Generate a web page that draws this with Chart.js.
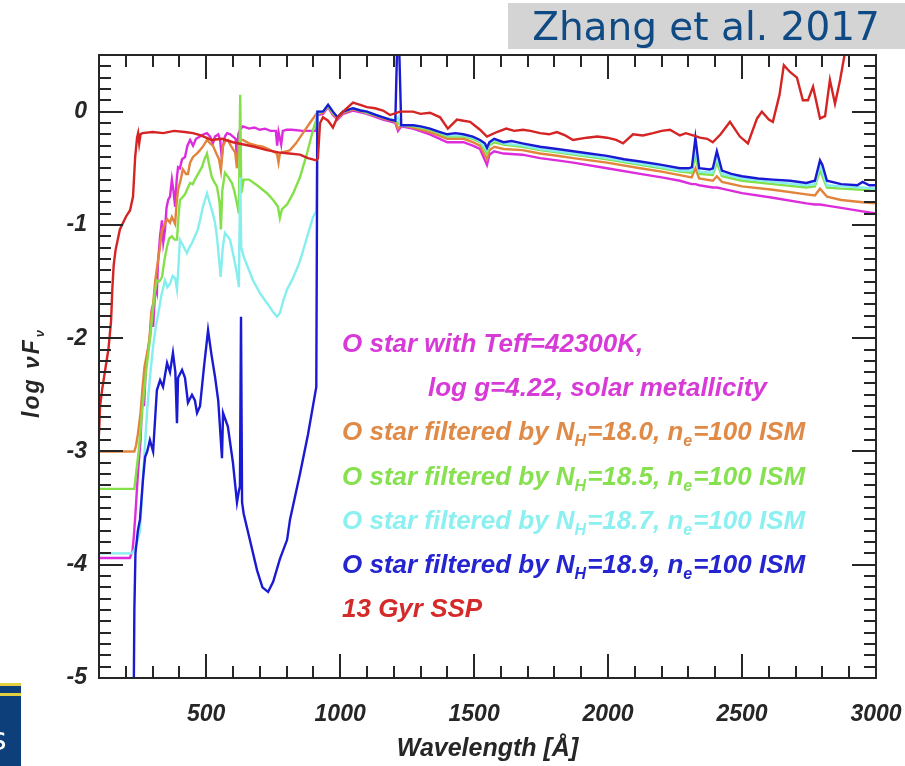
<!DOCTYPE html>
<html><head><meta charset="utf-8">
<script src="https://cdn.jsdelivr.net/npm/chart.js@4.4.0/dist/chart.umd.min.js"></script>
<style>html,body{margin:0;padding:0;background:#fff;}#wrap{position:relative;width:905px;height:766px;}</style>
</head><body><div id="wrap"><canvas id="c" width="905" height="766"></canvas></div>
<script>
// ---------------- data (wavelength in Angstrom, log nuF_nu) ----------------
const ssp13X = [100,104,112,125,135,145,150,155,162,178,200,216,227,235,242,246,250,255,262,300,340,380,420,451,480,520,560,600,640,680,727,770,810,850,880,912,
  917,925,936,955,973,990,1011,1048,1075,1100,1130,1160,1186,1223,1272,1300,1335,1373,1402,1436,1460,1485,1522,1548,1585,1620,1650,1682,1710,1746,1780,1809,1840,1869,1921,1960,1996,2030,2056,2093,2130,2168,2200,2231,2268,2290,2317,2343,2370,2391,2420,2455,2492,2522,2556,2574,2600,2615,2640,2656,2679,2705,2727,2746,2765,2791,2810,2828,2847,2866,2884,2900];
const ssp13Y = [-2.85,-2.6,-2.45,-2.25,-2.1,-1.85,-1.55,-1.35,-1.22,-1.04,-0.93,-0.87,-0.75,-0.4,-0.23,-0.19,-0.28,-0.2,-0.19,-0.18,-0.19,-0.17,-0.18,-0.19,-0.21,-0.25,-0.24,-0.27,-0.29,-0.31,-0.34,-0.36,-0.37,-0.38,-0.41,-0.43,
  -0.41,-0.1,-0.05,-0.08,-0.14,-0.05,0.0,0.08,0.06,0.04,0.03,0.01,-0.03,0.0,0.0,-0.02,-0.01,-0.05,-0.15,-0.07,-0.08,-0.09,-0.16,-0.22,-0.18,-0.15,-0.17,-0.16,-0.17,-0.19,-0.2,-0.18,-0.21,-0.25,-0.23,-0.22,-0.23,-0.25,-0.28,-0.2,-0.21,-0.19,-0.17,-0.16,-0.21,-0.19,-0.21,-0.23,-0.24,-0.27,-0.2,-0.09,-0.22,-0.28,-0.06,0.0,-0.07,-0.09,0.15,0.41,0.35,0.3,0.1,0.1,0.22,-0.06,-0.04,0.28,0.07,0.28,0.52,0.7];

const nh189X = [100,227,232,236,245,253,264,272,280,290,302,316,328,339,354,365,376,385,391,395,410,421,432,447,458,466,477,492,507,520,533,545,559,563,572,581,600,615,622,626,630,634,640,663,690,710,731,750,775,802,813,850,880,911,
  915,936,955,973,990,1011,1048,1075,1100,1135,1160,1186,1206,1213,1220,1228,1272,1300,1335,1373,1400,1430,1460,1495,1522,1540,1548,1557,1575,1610,1640,1680,1746,1810,1870,1930,1996,2060,2120,2200,2268,2300,2313,2326,2340,2380,2391,2406,2425,2460,2500,2560,2615,2680,2740,2772,2791,2800,2817,2870,2930,2950,2975,3000];
const nh189Y = [-6,-6,-4.4,-3.9,-3.7,-3.6,-3.25,-3.05,-3.0,-2.9,-3.0,-2.46,-2.37,-2.43,-2.22,-2.3,-2.13,-2.3,-2.75,-2.35,-2.28,-2.35,-2.57,-2.5,-2.55,-2.66,-2.6,-2.25,-1.93,-2.15,-2.34,-2.55,-3.06,-2.66,-2.72,-2.78,-3.1,-3.45,-3.35,-3.31,-1.81,-3.45,-3.55,-3.78,-4.05,-4.2,-4.24,-4.15,-3.95,-3.78,-3.6,-3.2,-2.85,-2.43,
  0.0,0.0,0.06,0.0,-0.05,0.0,0.03,0.01,0.0,-0.03,-0.05,-0.07,-0.08,0.6,0.6,-0.12,-0.12,-0.13,-0.15,-0.18,-0.2,-0.19,-0.2,-0.22,-0.25,-0.28,-0.32,-0.27,-0.24,-0.27,-0.26,-0.28,-0.31,-0.33,-0.35,-0.37,-0.39,-0.42,-0.44,-0.47,-0.5,-0.5,-0.49,-0.23,-0.5,-0.51,-0.5,-0.35,-0.52,-0.55,-0.57,-0.59,-0.6,-0.61,-0.63,-0.61,-0.43,-0.47,-0.61,-0.64,-0.65,-0.62,-0.65,-0.65];

const postBreakX = [915,936,955,973,990,1011,1048,1100,1160,1206,1216,1228,1272,1335,1400,1460,1495,1522,1548,1557,1575,1610,1680,1746,1810,1870,1996,2120,2200,2268,2312,2326,2340,2391,2406,2425,2500,2615,2740,2772,2791,2817,2870,2950,3000];

const nh187X = [100,222,232,240,253,265,279,290,302,312,320,333,346,355,365,375,384,391,397,402,413,428,437,447,458,469,478,488,503,515,525,533,540,548,554,562,570,580,589,600,615,622,627,631,640,660,675,700,730,750,764,775,790,802,824,850,875,899,911].concat(postBreakX);
const nh187Y = [-3.9,-3.9,-3.87,-3.82,-3.7,-3.2,-2.66,-2.35,-2.07,-1.9,-1.8,-1.62,-1.49,-1.55,-1.52,-1.45,-1.47,-1.57,-1.35,-1.13,-1.18,-1.25,-1.2,-1.16,-1.1,-1.04,-0.95,-0.84,-0.72,-0.82,-0.9,-0.98,-1.1,-1.3,-1.46,-1.2,-1.07,-1.1,-1.13,-1.25,-1.43,-1.55,-0.58,-1.2,-1.28,-1.4,-1.49,-1.6,-1.7,-1.77,-1.81,-1.78,-1.65,-1.57,-1.47,-1.32,-1.12,-0.93,-0.88,
  0.0,0.0,0.06,0.0,-0.05,0.0,0.03,0.0,-0.05,-0.08,-0.05,-0.12,-0.12,-0.15,-0.21,-0.21,-0.23,-0.26,-0.34,-0.28,-0.25,-0.28,-0.3,-0.33,-0.35,-0.37,-0.41,-0.46,-0.49,-0.52,-0.52,-0.3,-0.53,-0.54,-0.4,-0.55,-0.59,-0.62,-0.65,-0.64,-0.47,-0.65,-0.66,-0.67,-0.68];

const nh185X = [100,232,238,248,255,265,275,288,300,308,316,325,335,345,354,362,372,382,391,396,402,410,421,430,440,450,458,470,484,494,503,512,521,530,540,550,555,560,570,583,596,605,615,622,627,631,640,660,690,727,750,768,775,783,802,825,850,875,899,911].concat(postBreakX);
const nh185Y = [-3.33,-3.33,-3.2,-3.0,-2.81,-2.55,-2.31,-2.05,-1.78,-1.6,-1.49,-1.5,-1.46,-1.3,-1.19,-1.12,-1.1,-1.13,-1.13,-0.95,-0.78,-0.76,-0.73,-0.68,-0.63,-0.64,-0.6,-0.55,-0.49,-0.42,-0.37,-0.48,-0.58,-0.62,-0.66,-0.8,-1.04,-0.7,-0.54,-0.58,-0.63,-0.7,-0.81,-0.9,0.15,-0.72,-0.6,-0.6,-0.65,-0.72,-0.78,-0.84,-0.94,-0.86,-0.82,-0.72,-0.58,-0.38,-0.16,-0.07,
  -0.01,0.0,0.05,-0.01,-0.05,0.0,0.03,-0.01,-0.05,-0.08,-0.1,-0.12,-0.13,-0.16,-0.22,-0.22,-0.24,-0.27,-0.37,-0.3,-0.27,-0.29,-0.31,-0.34,-0.36,-0.38,-0.42,-0.47,-0.5,-0.53,-0.54,-0.38,-0.55,-0.56,-0.45,-0.57,-0.61,-0.64,-0.67,-0.66,-0.52,-0.67,-0.68,-0.69,-0.7];

const nh180X = [100,232,238,245,255,262,270,278,285,290,295,302,310,318,326,335,346,355,365,372,384,390,395,405,413,425,432,440,451,465,477,490,503,515,525,540,548,555,563,572,581,592,600,608,615,620,626,637,660,690,712,740,764,770,775,783,800,813,835,861,887,911].concat(postBreakX);
const nh180Y = [-3.0,-3.0,-2.95,-2.85,-2.66,-2.45,-2.25,-2.15,-2.07,-1.95,-1.78,-1.7,-1.49,-1.35,-1.22,-1.05,-0.99,-0.95,-0.98,-0.93,-0.99,-0.8,-0.69,-0.6,-0.51,-0.55,-0.55,-0.45,-0.4,-0.37,-0.34,-0.3,-0.25,-0.28,-0.3,-0.38,-0.42,-0.52,-0.3,-0.26,-0.25,-0.3,-0.33,-0.36,-0.5,-0.3,-0.25,-0.25,-0.28,-0.3,-0.31,-0.34,-0.37,-0.45,-0.37,-0.36,-0.35,-0.34,-0.28,-0.19,-0.1,-0.02,
  -0.02,-0.01,0.05,-0.02,-0.06,-0.01,0.02,-0.01,-0.06,-0.09,-0.15,-0.12,-0.14,-0.18,-0.24,-0.24,-0.27,-0.3,-0.42,-0.34,-0.31,-0.33,-0.34,-0.37,-0.39,-0.41,-0.45,-0.5,-0.53,-0.56,-0.58,-0.5,-0.59,-0.61,-0.57,-0.62,-0.66,-0.69,-0.73,-0.74,-0.68,-0.75,-0.78,-0.8,-0.81];

const ostarX = [100,215,225,230,236,245,255,262,268,275,283,290,296,302,310,316,320,328,335,340,346,352,358,365,372,378,384,390,395,402,410,421,430,440,451,462,477,490,503,515,525,533,545,552,558,563,570,578,590,600,610,615,620,626,637,660,680,700,720,740,760,765,770,780,786,800,820,860,900,911].concat(postBreakX);
const ostarY = [-3.94,-3.94,-3.88,-3.75,-3.55,-3.2,-2.9,-2.5,-2.6,-2.25,-2.1,-2.0,-1.8,-1.9,-1.55,-1.6,-1.34,-1.1,-0.96,-1.15,-1.05,-0.85,-0.78,-0.75,-0.6,-0.7,-0.84,-0.6,-0.49,-0.5,-0.42,-0.4,-0.3,-0.25,-0.3,-0.24,-0.22,-0.2,-0.19,-0.22,-0.28,-0.22,-0.2,-0.25,-0.4,-0.3,-0.22,-0.19,-0.2,-0.22,-0.24,-0.42,-0.2,-0.16,-0.13,-0.15,-0.14,-0.16,-0.15,-0.17,-0.17,-0.3,-0.18,-0.29,-0.17,-0.16,-0.16,-0.17,-0.17,-0.17,
  -0.03,-0.02,0.04,-0.03,-0.07,-0.02,0.01,-0.02,-0.07,-0.1,-0.17,-0.13,-0.15,-0.2,-0.27,-0.27,-0.3,-0.33,-0.47,-0.38,-0.35,-0.37,-0.38,-0.41,-0.43,-0.45,-0.5,-0.55,-0.58,-0.61,-0.64,-0.64,-0.65,-0.67,-0.67,-0.68,-0.72,-0.76,-0.81,-0.82,-0.82,-0.83,-0.85,-0.88,-0.9];

const xTickValues = [500,1000,1500,2000,2500,3000];
const xTickLabels = ['500','1000','1500','2000','2500','3000'];
const yTickValues = [-5,-4,-3,-2,-1,0];
const yTickLabels = ['-5','-4','-3','-2','-1','0'];

const seriesNames = ['13 Gyr SSP','N_H=18.9','N_H=18.7','N_H=18.5','N_H=18.0','O star'];
const seriesColors = ['#d42424','#1a1ad2','#86eeee','#84e048','#e2843c','#dc2cdc'];

// legend text rows: arrays of [text, isSubscript]
const legendRows = [
  [['O star with Teff=42300K,',0]],
  [['log g=4.22, solar metallicity',0]],
  [['O star filtered by N',0],['H',1],['=18.0, n',0],['e',1],['=100 ISM',0]],
  [['O star filtered by N',0],['H',1],['=18.5, n',0],['e',1],['=100 ISM',0]],
  [['O star filtered by N',0],['H',1],['=18.7, n',0],['e',1],['=100 ISM',0]],
  [['O star filtered by N',0],['H',1],['=18.9, n',0],['e',1],['=100 ISM',0]],
  [['13 Gyr SSP',0]]
];
const legendColors = ['#d83ad8','#d83ad8','#e08a48','#86e050','#8cf0f0','#2424d0','#d42a2a'];

// ---------------- chart ----------------
const pts = (xs, ys) => xs.map((v,i)=>({x:v, y:ys[i]}));
const seriesData = [pts(ssp13X,ssp13Y), pts(nh189X,nh189Y), pts(nh187X,nh187Y), pts(nh185X,nh185Y), pts(nh180X,nh180Y), pts(ostarX,ostarY)];

const FONT = 'Liberation Sans, Arial, Helvetica, sans-serif';
const INK = '#262626';

const decor = {
  id:'decor',
  beforeDraw(chart){
    const ctx = chart.ctx;
    ctx.save();
    ctx.fillStyle = '#d4d4d4';
    ctx.fillRect(508, 3, 397, 46);
    ctx.fillStyle = '#0f4a84';
    ctx.font = '39px "DejaVu Sans"';
    ctx.textAlign = 'center'; ctx.textBaseline = 'alphabetic';
    ctx.fillText('Zhang et al. 2017', 706, 40);
    ctx.fillStyle = '#e4cf40'; ctx.fillRect(0, 683, 21, 3);
    ctx.fillStyle = '#0d3f7a'; ctx.fillRect(0, 686, 21, 7);
    ctx.fillStyle = '#e4cf40'; ctx.fillRect(0, 693, 21, 3);
    ctx.fillStyle = '#0d3f7a'; ctx.fillRect(0, 696, 21, 70);
    ctx.fillStyle = '#ffffff'; ctx.font = '32px "DejaVu Sans"'; ctx.textAlign='left';
    ctx.fillText('s', -10, 750);
    ctx.restore();
  },
  afterDatasetsDraw(chart){
    const {ctx, chartArea:a, scales:{x, y}} = chart;
    ctx.save();
    ctx.strokeStyle = INK; ctx.lineWidth = 2;
    ctx.beginPath();
    for (let v = 200; v < 3000; v += 100) {
      const px = Math.round(x.getPixelForValue(v));
      const L = (v % 500 === 0) ? 24 : 12;
      ctx.moveTo(px, a.bottom); ctx.lineTo(px, a.bottom - L);
      ctx.moveTo(px, a.top); ctx.lineTo(px, a.top + L);
    }
    for (let i = -49; i <= 4; i++) {
      const py = Math.round(y.getPixelForValue(i / 10));
      const L = (i % 10 === 0) ? 24 : 12;
      ctx.moveTo(a.left, py); ctx.lineTo(a.left + L, py);
      ctx.moveTo(a.right, py); ctx.lineTo(a.right - L, py);
    }
    ctx.stroke();
    ctx.strokeRect(a.left, a.top, a.right - a.left, a.bottom - a.top);

    const fMain = 'italic bold 26px ' + FONT;
    const fSub = 'italic bold 16px ' + FONT;
    ctx.textBaseline = 'alphabetic'; ctx.textAlign = 'left';
    legendRows.forEach((row, r) => {
      let cx = (r === 1) ? 428 : 342;
      const base = 352 + r * 44.2;
      ctx.fillStyle = legendColors[r];
      row.forEach(([t, sub]) => {
        ctx.font = sub ? fSub : fMain;
        ctx.fillText(t, cx, sub ? base + 6 : base);
        cx += ctx.measureText(t).width + (sub ? 1 : 0);
      });
    });

    ctx.save();
    ctx.translate(39, 418);
    ctx.rotate(-Math.PI / 2);
    ctx.fillStyle = INK;
    ctx.font = 'italic bold 23px ' + FONT;
    ctx.letterSpacing = '2px';
    const t1 = 'log \u03bdF';
    ctx.fillText(t1, 0, 0);
    const w1 = ctx.measureText(t1).width;
    ctx.font = 'italic bold 13px ' + FONT;
    ctx.fillText('\u03bd', w1 + 1, 5);
    ctx.restore();
    ctx.restore();
  }
};

const tickFont = {family: FONT, size: 23, style: 'italic', weight: 'bold'};

new Chart(document.getElementById('c'), {
  type: 'line',
  data: {
    datasets: seriesData.map((d, i) => ({
      label: seriesNames[i], data: d, borderColor: seriesColors[i], backgroundColor: seriesColors[i],
      borderWidth: 2.4, pointRadius: 0, tension: 0, fill: false
    }))
  },
  options: {
    responsive: false, animation: false, devicePixelRatio: 1,
    layout: {padding: {top: 55, right: 29, left: 0, bottom: 0}},
    plugins: {legend: {display: false}, tooltip: {enabled: false}},
    scales: {
      x: {
        type: 'linear', position: 'bottom', min: 100, max: 3000,
        grid: {display: false, drawTicks: false}, border: {display: false},
        afterBuildTicks: s => { s.ticks = xTickValues.map(v => ({value: v})); },
        afterFit: s => { s.height = 88; s.paddingLeft = 0; s.paddingRight = 0; },
        ticks: {autoSkip: false, maxRotation: 0, minRotation: 0, padding: 23, color: INK, font: tickFont,
          callback: v => { const k = xTickValues.indexOf(v); return k >= 0 ? xTickLabels[k] : ''; }},
        title: {display: true, text: 'Wavelength [Å]', color: INK, font: {family: FONT, size: 25, style: 'italic', weight: 'bold'}, padding: {top: 0, bottom: 2}}
      },
      y: {
        type: 'linear', position: 'left', min: -5, max: 0.5,
        grid: {display: false, drawTicks: false}, border: {display: false},
        afterBuildTicks: s => { s.ticks = yTickValues.map(v => ({value: v})); },
        afterFit: s => { s.width = 99; s.paddingTop = 0; s.paddingBottom = 0; },
        ticks: {autoSkip: false, padding: 12, color: INK, font: tickFont,
          callback: v => { const k = yTickValues.indexOf(v); return k >= 0 ? yTickLabels[k] : ''; }}
      }
    }
  },
  plugins: [decor]
});
</script>
</body></html>
